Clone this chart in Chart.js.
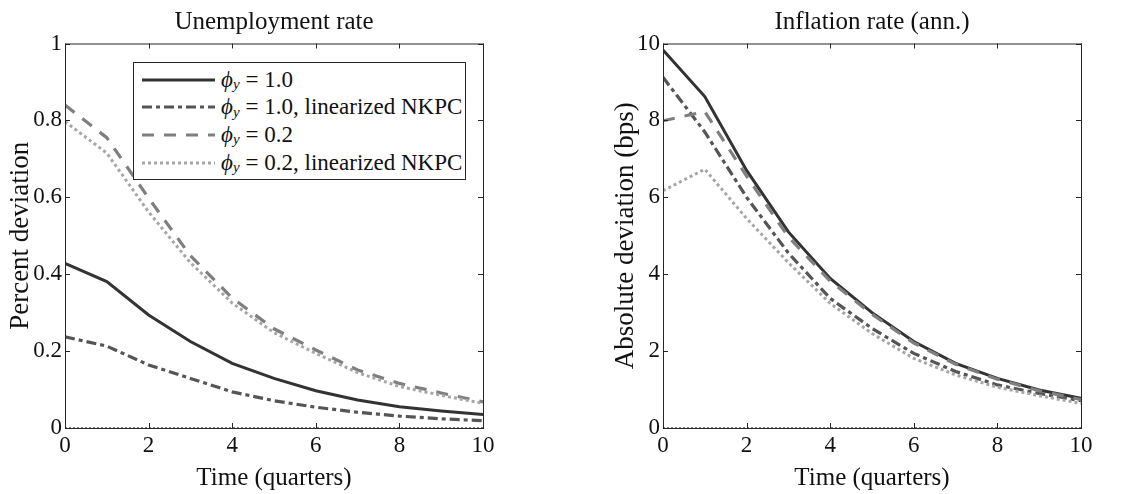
<!DOCTYPE html>
<html>
<head>
<meta charset="utf-8">
<script src="https://cdn.jsdelivr.net/npm/chart.js@4.4.1/dist/chart.umd.min.js"></script>
<style>
  body { margin: 0; background: #fff; }
  #wrap { position: relative; width: 1140px; height: 494px; }
  .panel { position: absolute; top: 0; width: 570px; height: 494px; }
  #legend {
    position: absolute; left: 133px; top: 62px; width: 333px; height: 118px;
    border: 1px solid #262626; background: #fff; box-sizing: border-box;
    font-family: "Liberation Serif", "DejaVu Serif", serif; font-size: 23px; color: #111;
    padding-top: 3px;
  }
  #legend .row { height: 27.6px; display: flex; align-items: center; white-space: nowrap; }
  #legend svg { margin-left: 8px; margin-right: 6px; }
  #legend sub { font-size: 15px; font-style: italic; position: relative; top: 5px; margin-right: 6px; vertical-align: baseline; }
  #legend .phi { font-style: italic; }
</style>
</head>
<body>
<div id="wrap">
  <div class="panel" style="left:0"><canvas id="unempChart" width="570" height="494"></canvas></div>
  <div class="panel" style="left:570px"><canvas id="inflChart" width="570" height="494"></canvas></div>
  <div id="legend"></div>
</div>
<script>
// Data
const quarters = [0, 1, 2, 3, 4, 5, 6, 7, 8, 9, 10];
const seriesNames = ["1.0", "1.0, linearized NKPC", "0.2", "0.2, linearized NKPC"];

const unempPhi10    = [0.428, 0.381, 0.294, 0.225, 0.168, 0.129, 0.097, 0.073, 0.055, 0.044, 0.035];
const unempPhi10Lin = [0.237, 0.213, 0.164, 0.129, 0.094, 0.071, 0.054, 0.041, 0.031, 0.024, 0.019];
const unempPhi02    = [0.840, 0.755, 0.598, 0.448, 0.338, 0.258, 0.203, 0.151, 0.116, 0.091, 0.068];
const unempPhi02Lin = [0.797, 0.715, 0.562, 0.430, 0.325, 0.248, 0.194, 0.144, 0.108, 0.085, 0.064];

const inflPhi10    = [9.83, 8.62, 6.70, 5.10, 3.89, 3.00, 2.25, 1.68, 1.29, 0.99, 0.77];
const inflPhi10Lin = [9.12, 7.70, 6.00, 4.55, 3.37, 2.59, 1.94, 1.47, 1.12, 0.90, 0.71];
const inflPhi02    = [7.99, 8.23, 6.55, 4.97, 3.82, 2.96, 2.21, 1.66, 1.27, 0.97, 0.74];
const inflPhi02Lin = [6.17, 6.73, 5.45, 4.30, 3.24, 2.46, 1.81, 1.38, 1.06, 0.84, 0.64];

const zeroLine = [0, 0];
const xTicks = [0, 2, 4, 6, 8, 10];

// line styles for the four series
const styles = [
  { color: "#333333", dash: [], width: 3 },
  { color: "#555555", dash: [10, 4, 4, 4], width: 3.2 },
  { color: "#7f7f7f", dash: [12, 10], width: 3.2 },
  { color: "#a6a6a6", dash: [3, 3], width: 3 }
];

const serif = "'Liberation Serif', 'DejaVu Serif', serif";
Chart.defaults.font.family = serif;
Chart.defaults.color = "#111";

function toPoints(vals) {
  return vals.map((v, i) => ({ x: quarters[i], y: v }));
}

function buildDatasets(seriesList) {
  const ds = seriesList.map((vals, i) => ({
    label: seriesNames[i],
    data: toPoints(vals),
    borderColor: styles[i].color,
    borderDash: styles[i].dash,
    borderWidth: styles[i].width,
    pointRadius: 0,
    tension: 0,
    fill: false,
    order: 10 - i
  }));
  ds.push({
    label: "zero",
    data: zeroLine.map((v, i) => ({ x: i === 0 ? quarters[0] : quarters[quarters.length - 1], y: v })),
    borderColor: "#000",
    borderDash: [2, 2],
    borderWidth: 1,
    pointRadius: 0,
    order: 0
  });
  return ds;
}

// box around the plot with inward ticks on all four sides
const frameTicks = {
  id: "frameTicks",
  afterDatasetsDraw(chart) {
    const { ctx, chartArea: a, scales: { x, y } } = chart;
    const len = 5;
    ctx.save();
    ctx.strokeStyle = "#262626";
    ctx.lineWidth = 1;
    ctx.strokeRect(a.left + 0.5, a.top + 0.5, a.width, a.height);
    ctx.beginPath();
    x.ticks.forEach(t => {
      const px = Math.round(x.getPixelForValue(t.value)) + 0.5;
      ctx.moveTo(px, a.bottom); ctx.lineTo(px, a.bottom - len);
      ctx.moveTo(px, a.top); ctx.lineTo(px, a.top + len);
    });
    y.ticks.forEach(t => {
      const py = Math.round(y.getPixelForValue(t.value)) + 0.5;
      ctx.moveTo(a.left, py); ctx.lineTo(a.left + len, py);
      ctx.moveTo(a.right, py); ctx.lineTo(a.right - len, py);
    });
    ctx.stroke();
    ctx.restore();
  }
};

function makeChart(id, title, yTitle, seriesList, yMax, yStep, pad, yWidth, yTitlePad) {
  return new Chart(document.getElementById(id), {
    type: "line",
    data: { datasets: buildDatasets(seriesList) },
    options: {
      responsive: false,
      animation: false,
      layout: { padding: pad },
      plugins: {
        legend: { display: false },
        tooltip: { enabled: false },
        title: {
          display: true, text: title, fullSize: false,
          font: { size: 25, weight: "normal" }, color: "#111",
          padding: { top: 7, bottom: 6.5 }
        }
      },
      scales: {
        x: {
          type: "linear", min: 0, max: 10,
          afterBuildTicks: s => { s.ticks = xTicks.map(v => ({ value: v })); },
          afterFit: s => { s.height = 66; },
          grid: { display: false, drawTicks: false },
          border: { display: false },
          ticks: { padding: 4, font: { size: 23 }, color: "#111", maxRotation: 0 },
          title: { display: true, text: "Time (quarters)", font: { size: 25 }, color: "#111", padding: { top: 1, bottom: 1 } }
        },
        y: {
          min: 0, max: yMax,
          afterFit: s => { s.width = yWidth; },
          grid: { display: false, drawTicks: false },
          border: { display: false },
          ticks: { stepSize: yStep, padding: 3, font: { size: 23 }, color: "#111",
                   callback: v => String(+v.toFixed(1)) },
          title: { display: true, text: yTitle, font: { size: 27 }, color: "#111", padding: { top: yTitlePad, bottom: 0 } }
        }
      }
    },
    plugins: [frameTicks]
  });
}

const unempChart = makeChart("unempChart", "Unemployment rate", "Percent deviation",
  [unempPhi10, unempPhi10Lin, unempPhi02, unempPhi02Lin], 1, 0.2,
  { left: 0, right: 87, top: 0, bottom: 0 }, 65, 5);

makeChart("inflChart", "Inflation rate (ann.)", "Absolute deviation (bps)",
  [inflPhi10, inflPhi10Lin, inflPhi02, inflPhi02Lin], 10, 2,
  { left: 0, right: 59, top: 0, bottom: 0 }, 93, 40);

// html legend built from the first chart's datasets (needs math subscripts)
const legendEl = document.getElementById("legend");
unempChart.data.datasets.slice(0, 4).forEach(ds => {
  const row = document.createElement("div");
  row.className = "row";
  const dash = ds.borderDash.length ? ds.borderDash.join(",") : "none";
  row.innerHTML =
    '<svg width="73" height="8"><line x1="0" y1="4" x2="73" y2="4" stroke="' + ds.borderColor +
    '" stroke-width="' + ds.borderWidth + '" stroke-dasharray="' + dash + '"/></svg>' +
    '<span class="phi">ϕ</span><sub>y</sub>= ' + ds.label;
  legendEl.appendChild(row);
});
</script>
</body>
</html>
